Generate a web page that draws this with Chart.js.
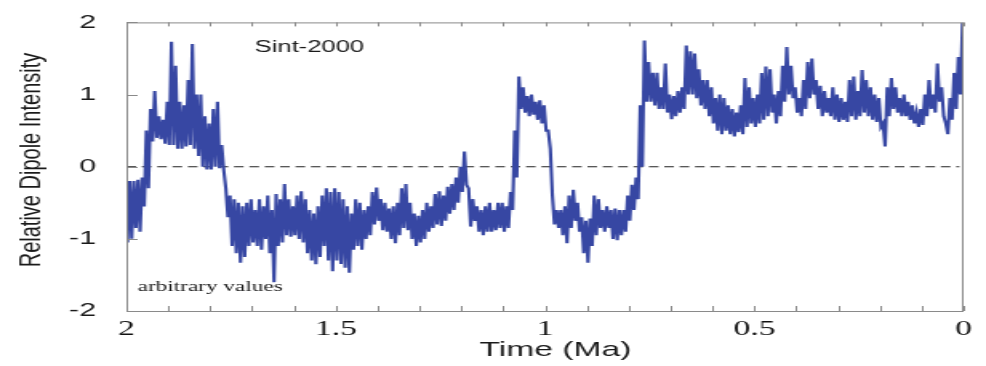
<!DOCTYPE html>
<html>
<head>
<meta charset="utf-8">
<script src="https://cdn.jsdelivr.net/npm/chart.js@4.4.1/dist/chart.umd.min.js"></script>
<style>
  html, body { margin: 0; padding: 0; background: #fff; }
  /* the reference picture is stretched sideways, so the canvas is too */
  #dipole { display: block; width: 986px !important; height: 366px !important; }
</style>
</head>
<body>
<canvas id="dipole" width="616" height="366"></canvas>
<script>
// upper and lower edge of the noisy trace, one pair every 0.01 Ma from 2 Ma to 0 Ma
var hiVals = [
  -0.35, -0.2, -0.2, -0.18, -0.15, 0.5, 0.8, 1.05, 0.7, 0.65,
  0.9, 1.73, 1.4, 0.9, 0.85, 1.2, 1.7, 1.0, 1.0, 0.7,
  0.6, 0.8, 0.9, 0.3, -0.3, -0.4, -0.45, -0.5, -0.55, -0.5,
  -0.45, -0.6, -0.45, -0.55, -0.4, -0.6, -0.38, -0.45, -0.24, -0.45,
  -0.55, -0.4, -0.34, -0.45, -0.6, -0.65, -0.55, -0.4, -0.3, -0.35,
  -0.3, -0.35, -0.45, -0.55, -0.65, -0.45, -0.5, -0.6, -0.55, -0.35,
  -0.29, -0.45, -0.5, -0.58, -0.55, -0.5, -0.3, -0.24, -0.5, -0.65,
  -0.68, -0.6, -0.5, -0.55, -0.38, -0.34, -0.4, -0.28, -0.24, -0.15,
  0.0, 0.21, -0.3, -0.45, -0.55, -0.6, -0.55, -0.5, -0.6, -0.5,
  -0.5, -0.55, -0.35, 0.5, 1.25, 1.1, 0.98, 1.0, 0.9, 0.92,
  0.85, 0.5, -0.4, -0.6, -0.6, -0.55, -0.4, -0.32, -0.5, -0.7,
  -0.75, -0.72, -0.4, -0.45, -0.6, -0.55, -0.6, -0.58, -0.6, -0.6,
  -0.4, -0.25, -0.15, 0.85, 1.75, 1.45, 1.3, 1.3, 1.1, 1.43,
  1.0, 0.98, 1.05, 1.1, 1.68, 1.6, 1.57, 1.35, 1.2, 1.2,
  1.1, 0.95, 1.0, 0.95, 0.85, 0.8, 0.75, 0.85, 1.23, 1.1,
  0.95, 1.0, 1.3, 1.39, 1.35, 1.0, 1.05, 1.4, 1.66, 1.4,
  1.1, 0.95, 1.2, 1.45, 1.5, 1.2, 1.12, 1.05, 0.95, 1.1,
  1.0, 0.95, 0.9, 1.2, 1.25, 1.05, 1.34, 1.2, 1.1, 1.0,
  0.95, 0.6, 1.1, 1.23, 1.1, 0.95, 1.0, 0.9, 0.85, 0.75,
  0.8, 1.0, 1.2, 1.0, 1.43, 1.1, 0.6, 0.95, 1.3, 1.52,
  2.0
];
var loVals = [
  -1.05, -1.0, -0.85, -0.9, -0.55, -0.3, 0.35, 0.4, 0.38, 0.32,
  0.3, 0.3, 0.25, 0.25, 0.28, 0.3, 0.25, 0.15, 0.0, -0.04,
  -0.04, 0.0, -0.02, -0.05, -0.7, -1.1, -1.2, -1.33, -1.25, -1.1,
  -1.05, -1.1, -1.15, -1.0, -1.2, -1.6, -1.1, -1.05, -0.95, -0.97,
  -0.95, -1.0, -1.05, -1.2, -1.3, -1.35, -1.25, -1.1, -1.3, -1.45,
  -1.3, -1.35, -1.4, -1.47, -1.15, -1.1, -1.15, -1.0, -0.95, -0.8,
  -0.75, -0.88, -0.9, -1.0, -1.06, -0.95, -0.85, -0.88, -1.0, -1.1,
  -1.05, -1.0, -0.9, -0.85, -0.8, -0.82, -0.75, -0.65, -0.6, -0.5,
  -0.35, -0.25, -0.83, -0.75, -0.9, -0.95, -0.9, -0.9, -0.88, -0.85,
  -0.9, -0.85, -0.6, -0.15, 0.8, 0.75, 0.7, 0.72, 0.65, 0.6,
  0.5, 0.25, -0.8, -0.85, -0.95, -1.06, -0.85, -0.75, -0.9, -1.2,
  -1.33, -1.1, -0.95, -0.85, -0.9, -0.85, -1.0, -1.02, -0.95, -0.9,
  -0.75, -0.6, -0.45, 0.0, 0.9, 0.9, 0.85, 0.8, 0.8, 0.75,
  0.66, 0.7, 0.75, 0.8, 1.0, 1.0, 0.95, 0.85, 0.8, 0.7,
  0.6, 0.5, 0.45, 0.5, 0.45, 0.42, 0.48, 0.45, 0.55, 0.6,
  0.55, 0.6, 0.65, 0.7, 0.75, 0.6, 0.7, 0.9, 1.0, 0.95,
  0.75, 0.7, 0.8, 0.95, 1.0, 0.8, 0.7, 0.75, 0.7, 0.65,
  0.62, 0.65, 0.62, 0.7, 0.65, 0.7, 0.75, 0.7, 0.65, 0.62,
  0.55, 0.28, 0.7, 0.8, 0.75, 0.7, 0.7, 0.65, 0.6, 0.55,
  0.58, 0.7, 0.8, 0.75, 0.9, 0.7, 0.45, 0.65, 0.8, 1.0,
  0.48
];
var timeStart = 2;
var timeStep = 0.01;
var xTickValues = [0, 0.5, 1, 1.5, 2];
var xTickLabels = ['0', '0.5', '1', '1.5', '2'];
var yTickValues = [-2, -1, 0, 1, 2];
var yTickLabels = ['-2', '-1', '0', '1', '2'];
var seriesName = 'Sint-2000';

// zig-zag between the two edges so the trace reads as a dense band
var tracePoints = [];
hiVals.forEach(function (h, i) {
  var t = timeStart - i * timeStep;
  tracePoints.push({ x: t + 0.0025, y: h });
  tracePoints.push({ x: t - 0.0025, y: loVals[i] });
});

var sans = "'Liberation Sans', Arial, Helvetica, sans-serif";
var serif = "'Liberation Serif', 'Times New Roman', serif";

var decor = {
  id: 'decor',
  afterDraw: function (chart) {
    var ctx = chart.ctx, a = chart.chartArea;
    var xs = chart.scales.x, ys = chart.scales.y;
    ctx.save();
    // frame
    ctx.strokeStyle = '#8a8a8a';
    ctx.lineWidth = 1;
    ctx.strokeRect(a.left + 0.5, a.top + 0.5, a.right - a.left - 1, a.bottom - a.top);
    // small inward ticks every 0.1 Ma, top and bottom
    ctx.beginPath();
    for (var k = 0; k <= 20; k++) {
      var px = Math.round(xs.getPixelForValue(k / 10)) + 0.5;
      ctx.moveTo(px, a.bottom); ctx.lineTo(px, a.bottom - 5);
      ctx.moveTo(px, a.top); ctx.lineTo(px, a.top + 4);
    }
    yTickValues.forEach(function (v) {
      var py = Math.round(ys.getPixelForValue(v)) + 0.5;
      ctx.moveTo(a.left, py); ctx.lineTo(a.left + 7, py);
    });
    ctx.stroke();

    ctx.fillStyle = '#1a1a1a';
    // series name inside the plot
    ctx.font = '16px ' + sans;
    ctx.textAlign = 'left';
    ctx.textBaseline = 'alphabetic';
    ctx.fillText(seriesName, 159, 52);
    // note at the bottom left
    ctx.font = '14.5px ' + serif;
    ctx.fillText('arbitrary values', 86, 291);
    // x axis title
    ctx.font = '21px ' + sans;
    ctx.textAlign = 'center';
    ctx.fillText('Time (Ma)', 347, 356);
    // y axis title, squeezed so the stretch does not fatten it
    ctx.translate(20, 160);
    ctx.scale(0.88, 1);
    ctx.rotate(-Math.PI / 2);
    ctx.font = '20px ' + sans;
    ctx.textBaseline = 'middle';
    ctx.fillText('Relative Dipole Intensity', 0, 0);
    ctx.restore();
  }
};

new Chart(document.getElementById('dipole'), {
  type: 'line',
  data: {
    datasets: [
      {
        label: seriesName,
        data: tracePoints,
        borderColor: '#3747a3',
        borderWidth: 2.1,
        pointRadius: 0,
        tension: 0
      },
      {
        label: 'zero',
        data: [{ x: 2, y: 0 }, { x: 0.01, y: 0 }],
        borderColor: '#222',
        borderWidth: 1.1,
        borderDash: [6, 3.6],
        pointRadius: 0
      }
    ]
  },
  options: {
    responsive: false,
    animation: false,
    events: [],
    layout: { padding: { left: 0, right: 14, top: 17, bottom: 0 } },
    plugins: { legend: { display: false }, tooltip: { enabled: false } },
    scales: {
      x: {
        type: 'linear',
        min: 0,
        max: 2,
        reverse: true,
        grid: { display: false },
        border: { display: false },
        afterBuildTicks: function (s) { s.ticks = xTickValues.map(function (v) { return { value: v }; }); },
        afterFit: function (s) { s.height = 55; },
        ticks: {
          padding: -2,
          color: '#111',
          font: { family: serif, size: 21 },
          callback: function (v) { return xTickLabels[xTickValues.indexOf(v)]; }
        }
      },
      y: {
        min: -2,
        max: 2,
        grid: { display: false },
        border: { display: false },
        afterBuildTicks: function (s) { s.ticks = yTickValues.map(function (v) { return { value: v }; }); },
        afterFit: function (s) { s.width = 79; },
        ticks: {
          padding: 11,
          color: '#1a1a1a',
          font: { family: sans, size: 19 },
          callback: function (v) { return yTickLabels[yTickValues.indexOf(v)]; }
        }
      }
    }
  },
  plugins: [decor]
});
</script>
</body>
</html>
